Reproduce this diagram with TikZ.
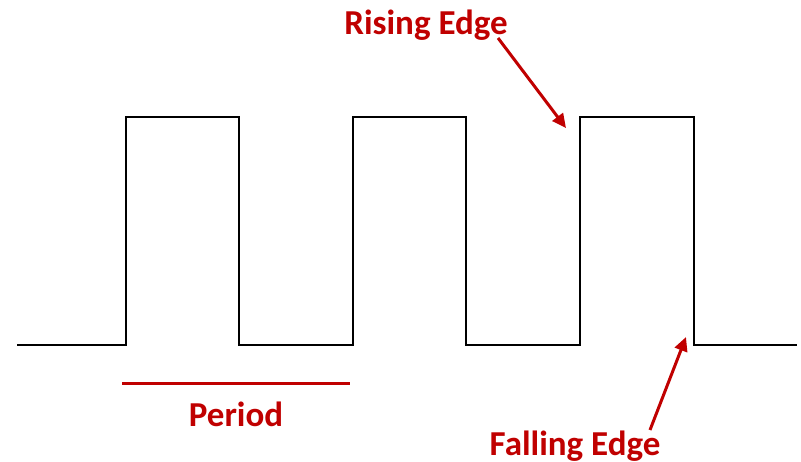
\documentclass[tikz,border=0pt]{standalone}
\usepackage{fontspec}
\setmainfont{Carlito}
\usetikzlibrary{arrows.meta}
\definecolor{lbl}{HTML}{C00000}
\begin{document}
\begin{tikzpicture}[x=1pt,y=-1pt,
  wave/.style={line width=2pt,black,line join=miter},
  redtxt/.style={text=lbl,font=\fontsize{35}{40}\selectfont\bfseries,inner sep=0pt,anchor=base},
  redarrow/.style={draw=lbl,line width=3pt,-{Triangle[length=14pt,width=13pt]}}]
\useasboundingbox (0,0) rectangle (801,462);
\draw[wave] (17,345) -- (125.5,345) -- (125.5,117.5) -- (239,117.5) -- (239,345) -- (352.5,345) -- (352.5,117.5) -- (466,117.5) -- (466,345) -- (580,345) -- (580,117.5) -- (694,117.5) -- (694,345) -- (797,345);
\draw[draw=lbl,line width=3pt] (122,384) -- (350,384);
\node[redtxt] (period) at (236,427) {Period};
\node[redtxt] (rising) at (426,35) {Rising Edge};
\node[redtxt] (falling) at (575,455) {Falling Edge};
\coordinate (rs) at (498,38);
\coordinate (rt) at (566,128);
\coordinate (fs) at (650,430);
\coordinate (ft) at (686,337);
\draw[redarrow] (rs) -- (rt);
\draw[redarrow] (fs) -- (ft);
\end{tikzpicture}
\end{document}
